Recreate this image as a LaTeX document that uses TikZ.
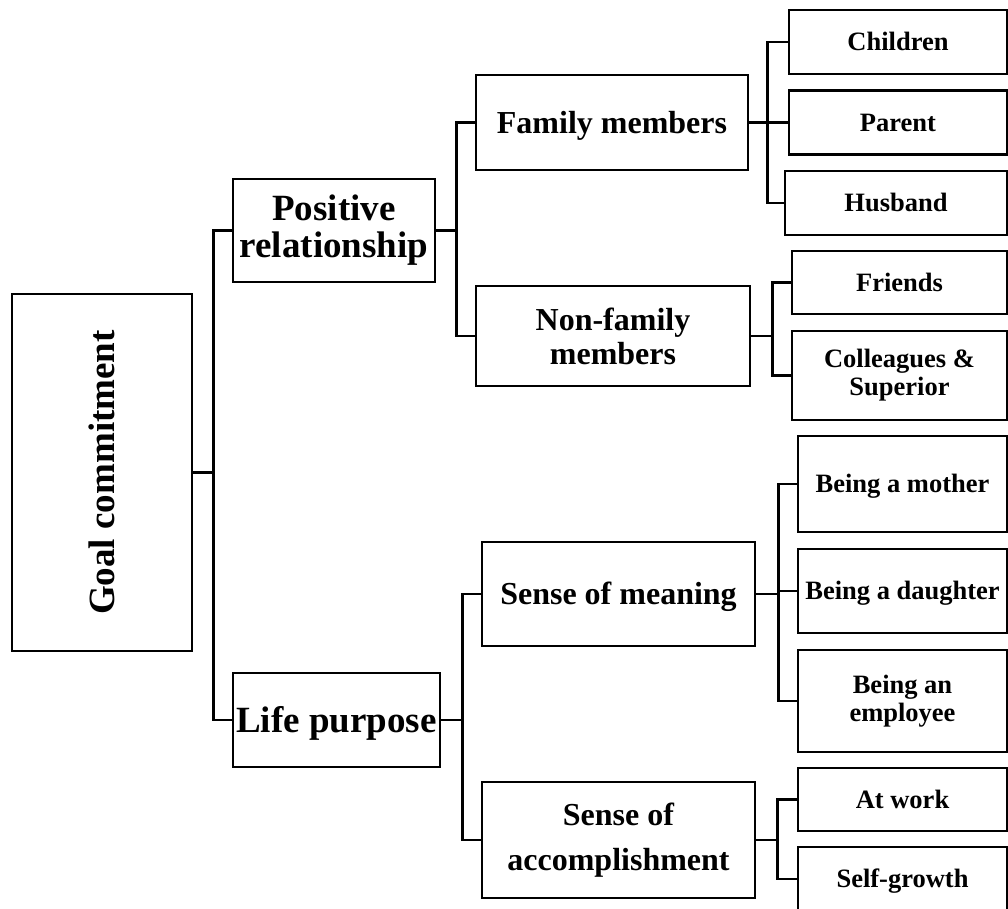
\documentclass[tikz,border=0pt]{standalone}
\usepackage{fontspec}
\usepackage{graphicx}
\setmainfont{Liberation Serif}
\begin{document}
\begin{tikzpicture}[x=1pt,y=-1pt,
  box/.style={draw=black, line width=2.7pt, inner sep=0pt, align=center, font=\bfseries},
  bigtxt/.style={box, font=\fontsize{37}{37}\selectfont\bfseries},
  midtxt/.style={box, font=\fontsize{32}{34}\selectfont\bfseries},
  smalltxt/.style={box, font=\fontsize{26.5}{28}\selectfont\bfseries},
  oneline big/.style={text height=24.5pt, text depth=0pt},
  oneline mid/.style={text height=21.2pt, text depth=0pt},
  oneline small/.style={text height=17.5pt, text depth=0pt},
  link/.style={draw=black, line width=2.7pt}]
\useasboundingbox (0,0) rectangle (1008,908);

% root
\node[bigtxt, minimum width=180pt, minimum height=357pt] (goal) at (102,472.5)
  {\rotatebox{90}{Goal commitment}};

% second level
\node[bigtxt, minimum width=202pt, minimum height=103pt] (pos) at (334,230.5)
  {Positive\\relationship};
\node[bigtxt, oneline big, minimum width=207pt, minimum height=94pt] (life) at (336.5,720)
  {Life purpose};

% third level
\node[midtxt, oneline mid, minimum width=272pt, minimum height=95pt] (fam) at (612,122.5)
  {Family members};
\node[midtxt, minimum width=274pt, minimum height=100pt] (nonfam) at (613,336)
  {Non-family\\members};
\node[midtxt, oneline mid, minimum width=273pt, minimum height=104pt] (mean) at (618.5,594)
  {Sense of meaning};
\node[midtxt, font=\fontsize{32}{45}\selectfont\bfseries, minimum width=273pt, minimum height=116pt] (acc) at (618.5,840)
  {Sense of\\accomplishment};

% leaves
\node[smalltxt, oneline small, minimum width=218pt, minimum height=64pt] (child) at (898,42) {Children};
\node[smalltxt, oneline small, minimum width=218pt, minimum height=64pt] (parent) at (898,122.5) {Parent};
\node[smalltxt, oneline small, minimum width=222pt, minimum height=64pt] (husb) at (896,203) {Husband};
\node[smalltxt, oneline small, minimum width=215pt, minimum height=63pt] (friend) at (899.5,282.5) {Friends};
\node[smalltxt, minimum width=215pt, minimum height=89pt] (coll) at (899.5,375.5) {Colleagues \&\\Superior};
\node[smalltxt, oneline small, minimum width=209pt, minimum height=96pt] (mother) at (902.5,484) {Being a mother};
\node[smalltxt, oneline small, minimum width=209pt, minimum height=84pt] (daught) at (902.5,591) {Being a daughter};
\node[smalltxt, minimum width=209pt, minimum height=102pt] (employ) at (902.5,701) {Being an\\employee};
\node[smalltxt, oneline small, minimum width=209pt, minimum height=63pt] (work) at (902.5,799.5) {At work};
\node[smalltxt, oneline small, minimum width=209pt, minimum height=64pt] (growth) at (902.5,879) {Self-growth};

% elbow connectors
\draw[link] (goal.east) -- ++(20,0) coordinate (gbus) |- (pos.west);
\draw[link] (gbus) |- (life.west);

\draw[link] (pos.east) -- ++(20,0) coordinate (pbus) |- (fam.west);
\draw[link] (pbus) |- (nonfam.west);

\draw[link] (life.east) -- ++(21,0) coordinate (lbus) |- (mean.west);
\draw[link] (lbus) |- (acc.west);

\draw[link] (fam.east) -- ++(18,0) coordinate (fbus) |- (child.west);
\draw[link] (fbus) |- (parent.west);
\draw[link] (fbus) |- (husb.west);

\draw[link] (nonfam.east) -- ++(21,0) coordinate (nbus) |- (friend.west);
\draw[link] (nbus) |- (coll.west);

\draw[link] (mean.east) -- ++(22,0) coordinate (mbus) |- (mother.west);
\draw[link] (mbus) |- (daught.west);
\draw[link] (mbus) |- (employ.west);

\draw[link] (acc.east) -- ++(21,0) coordinate (abus) |- (work.west);
\draw[link] (abus) |- (growth.west);
\end{tikzpicture}
\end{document}
